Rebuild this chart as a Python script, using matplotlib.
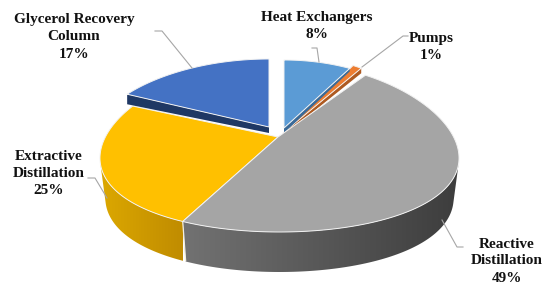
import numpy as np
import matplotlib
matplotlib.use('Agg')
import matplotlib.pyplot as plt
from matplotlib.patches import Polygon, PathPatch
from matplotlib.path import Path
from matplotlib.colors import LinearSegmentedColormap

plt.rcParams['font.family'] = ['Liberation Serif', 'DejaVu Serif']

# ── data ───────────────────────────────────────────────────────────────────
labels = ['Heat Exchangers', 'Pumps', 'Reactive\nDistillation',
          'Extractive\nDistillation', 'Glycerol Recovery\nColumn']
values = [8, 1, 49, 25, 17]
colors = ['#5b9bd5', '#ed7d31', '#a5a5a5', '#ffc000', '#4472c4']

# (rim centre x, rim centre y, radius x, radius y) of each slice, in pixels
geom = [(284, 128, 152, 68), (283, 140, 162, 85), (279.5, 147, 178, 85),
        (279.5, 147, 178, 85), (269, 127, 172, 68)]
# where the slice's point sits (the view tilt pushes it off the rim centre)
apex = [(284, 128), (283, 133), (278, 137), (278, 137), (269, 127)]
# thin cut faces on the pulled-out slices: depth at apex, depth at rim
cut_depth = [(5, 3), (3, 5), (0, 0), (0, 0), (6, 10)]
cut_colors = ['#3a6a98', '#ae5a21', '#777777', '#c79500', '#1f3864']

# label centres and leader lines
text_xy = [(317, 26.5), (431, 47), (507, 261), (49, 173.5), (74, 37)]
leaders = [[(312, 48), (317, 48), (319, 62)],
           [(362, 67), (403, 36), (408, 36)],
           [(442, 220), (457, 247), (463, 247)],
           [(88, 178), (95, 178), (107, 198)],
           [(155, 31), (162, 31), (192, 68)]]
DEPTH = 40
PERSP = 0.13
BOTTOM_SCALE = 0.97


def rim(theta, g):
    """Pixel position of clockwise-from-top angle(s) theta on a slice rim."""
    cx, cy, rx, ry = g
    X, Y = np.sin(theta), np.cos(theta)
    return cx + rx * X / (1 + PERSP * Y), cy - ry * Y


def grad_wall(ax, xs, ys, cx, c0, c1):
    """Fill the side wall under a rim arc with a left-to-right gradient."""
    top = np.column_stack([xs, ys])
    bot = np.column_stack([cx + (xs - cx) * BOTTOM_SCALE, ys + DEPTH])[::-1]
    verts = np.vstack([top, bot, top[:1]])
    codes = [Path.MOVETO] + [Path.LINETO] * (len(verts) - 2) + [Path.CLOSEPOLY]
    patch = PathPatch(Path(verts, codes), fc='none', ec='none')
    ax.add_patch(patch)
    cmap = LinearSegmentedColormap.from_list('w', [c0, c1])
    im = ax.imshow(np.linspace(0, 1, 256)[None, :], cmap=cmap, aspect='auto',
                   extent=[xs.min(), xs.max(), ys.max() + DEPTH, ys.min()],
                   zorder=2)
    im.set_clip_path(patch)


fig = plt.figure(figsize=(5.5, 2.97), dpi=100)
ax = fig.add_axes([0, 0, 1, 1])

ends = np.cumsum(values) / np.sum(values) * 2 * np.pi
starts = np.r_[0, ends[:-1]]

# ── side walls of the two front slices ─────────────────────────────────────
t = np.linspace(starts[2], ends[2], 200)
t = t[np.cos(t) < -0.19]
x, y = rim(t, geom[2])
grad_wall(ax, x, y, geom[2][0], '#727272', '#3d3d3d')
t = np.linspace(starts[3], ends[3], 200)
t = t[np.cos(t) < -0.19]
x, y = rim(t, geom[3])
grad_wall(ax, x, y, geom[3][0], '#dca800', '#c08c00')
sx, sy = rim(ends[2], geom[2])
ax.plot([sx, geom[2][0] + (sx - geom[2][0]) * BOTTOM_SCALE], [sy, sy + DEPTH - 1],
        color='#f4f0e0', lw=0.9, zorder=3)

# ── top faces ──────────────────────────────────────────────────────────────
for i in [1, 0, 4, 3, 2]:
    g = geom[i]
    t = np.linspace(starts[i], ends[i], 200)
    x, y = rim(t, g)
    z = 5 if i >= 2 else 4
    if i == 4:
        z = 6
    d0, d1 = cut_depth[i]
    if d1:
        # edge that faces the viewer shows a thin dark strip
        k = -1 if i in (0, 1) else 0
        ex, ey = x[k], y[k]
        ax.add_patch(Polygon([apex[i], (ex, ey), (ex, ey + d1),
                              (apex[i][0], apex[i][1] + d0)],
                             fc=cut_colors[i], ec='none', zorder=z))
    verts = np.vstack([apex[i], np.column_stack([x, y])])
    ax.add_patch(Polygon(verts, closed=True, fc=colors[i], ec='#f2f2f2',
                         lw=0.7, zorder=z))

# ── labels ─────────────────────────────────────────────────────────────────
for i, lab in enumerate(labels):
    ax.add_line(plt.Line2D(*zip(*leaders[i]), color='#a6a6a6', lw=0.8, zorder=7))
    ax.text(text_xy[i][0], text_xy[i][1], f'{lab}\n{values[i]}%', ha='center',
            va='center', fontsize=11, fontweight='bold', color='#111111',
            linespacing=1.4, zorder=8)

ax.set_xlim(0, 550)
ax.set_ylim(297, 0)
ax.axis('off')
fig.savefig('out.png', dpi=100)
